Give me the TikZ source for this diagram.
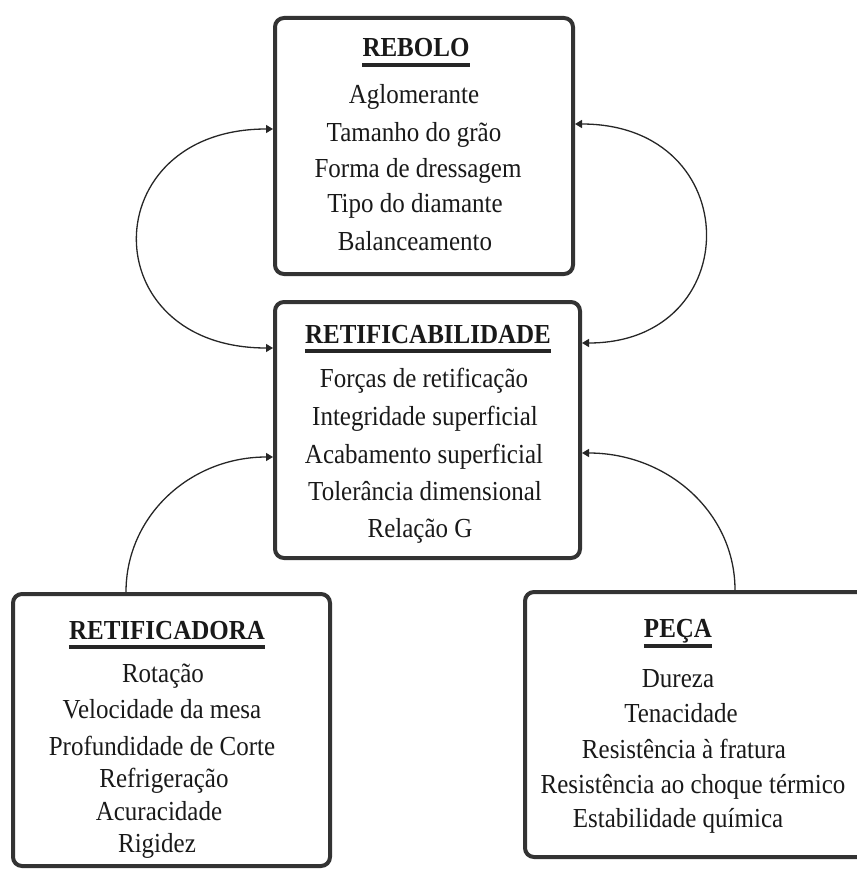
\documentclass[tikz,border=0pt]{standalone}
\usepackage{fontspec}
\setmainfont{Liberation Serif}
\usetikzlibrary{arrows.meta}
% slightly taller lettering
\newcommand{\tallt}[1]{\scalebox{1}[1.1]{#1}}
\begin{document}
\begin{tikzpicture}[x=1pt,y=-1pt,
  box/.style={draw=black!80, line width=4pt, rounded corners=9pt, inner sep=0pt},
  item/.style={anchor=base, inner sep=0pt, font=\fontsize{25}{30}\selectfont, text=black!90},
  heading/.style={item, font=\fontsize{25}{30}\selectfont\bfseries},
  uline/.style={line width=3.2pt, draw=black!85},
  link/.style={line width=1.3pt, draw=black!85, -{Triangle[length=7pt,width=8pt]}},
  link2/.style={link, {Triangle[length=7pt,width=8pt]}-{Triangle[length=7pt,width=8pt]}}]
\useasboundingbox (0,0) rectangle (856,872);

% boxes
\node[box, minimum width=298pt, minimum height=256pt] (rebolo) at (424,146) {};
\node[box, minimum width=305pt, minimum height=256pt] (retif) at (427.5,430) {};
\node[box, minimum width=317pt, minimum height=272pt] (maq) at (171.5,730) {};
\node[box, minimum width=347pt, minimum height=265pt] (peca) at (698.5,724.5) {};

% REBOLO
\node[heading] (t1) at (416,57) {\tallt{REBOLO}};
\draw[uline] ([yshift=-8pt]t1.base west) -- ([yshift=-8pt]t1.base east);
\node[item] (r1) at (414,103) {\tallt{Aglomerante}};
\node[item] (r2) at (414,141) {\tallt{Tamanho do grão}};
\node[item] (r3) at (418,177) {\tallt{Forma de dressagem}};
\node[item] (r4) at (415,212) {\tallt{Tipo do diamante}};
\node[item] (r5) at (415,250) {\tallt{Balanceamento}};

% RETIFICABILIDADE
\node[heading] (t2) at (428,343) {\tallt{RETIFICABILIDADE}};
\draw[uline] ([yshift=-8pt]t2.base west) -- ([yshift=-8pt]t2.base east);
\node[item] (b1) at (424,387) {\tallt{Forças de retificação}};
\node[item] (b2) at (425,425) {\tallt{Integridade superficial}};
\node[item] (b3) at (424,463) {\tallt{Acabamento superficial}};
\node[item] (b4) at (425,500) {\tallt{Tolerância dimensional}};
\node[item] (b5) at (420,537) {\tallt{Relação G}};

% RETIFICADORA
\node[heading] (t3) at (167,639) {\tallt{RETIFICADORA}};
\draw[uline] ([yshift=-8pt]t3.base west) -- ([yshift=-8pt]t3.base east);
\node[item] (m1) at (163,682) {\tallt{Rotação}};
\node[item] (m2) at (162,718) {\tallt{Velocidade da mesa}};
\node[item] (m3) at (162,755) {\tallt{Profundidade de Corte}};
\node[item] (m4) at (164,787) {\tallt{Refrigeração}};
\node[item] (m5) at (159,820) {\tallt{Acuracidade}};
\node[item] (m6) at (157,852) {\tallt{Rigidez}};

% PEÇA
\node[heading] (t4) at (678,637) {\tallt{PEÇA}};
\draw[uline] ([yshift=-9pt]t4.base west) -- ([yshift=-9pt]t4.base east);
\node[item] (p1) at (678,687) {\tallt{Dureza}};
\node[item] (p2) at (681,722) {\tallt{Tenacidade}};
\node[item] (p3) at (684,758) {\tallt{Resistência à fratura}};
\node[item] (p4) at (693,793) {\tallt{Resistência ao choque térmico}};
\node[item] (p5) at (678,827) {\tallt{Estabilidade química}};

% feedback loops between REBOLO and RETIFICABILIDADE
\draw[link2] ([yshift=17pt]rebolo.west) .. controls +(-179,0) and +(-181,0) .. ([yshift=82pt]retif.west);
\draw[link2] ([yshift=22pt]rebolo.east) .. controls +(172,0) and +(165,0) .. ([yshift=87pt]retif.east);

% influences of machine and workpiece
\draw[link] ([xshift=-45.5pt]maq.north) .. controls +(0,-76) and +(-83,0) .. ([yshift=-27pt]retif.west);
\draw[link] ([xshift=36.5pt]peca.north) .. controls +(0,-77) and +(86,0) .. ([yshift=-23pt]retif.east);
\end{tikzpicture}
\end{document}
